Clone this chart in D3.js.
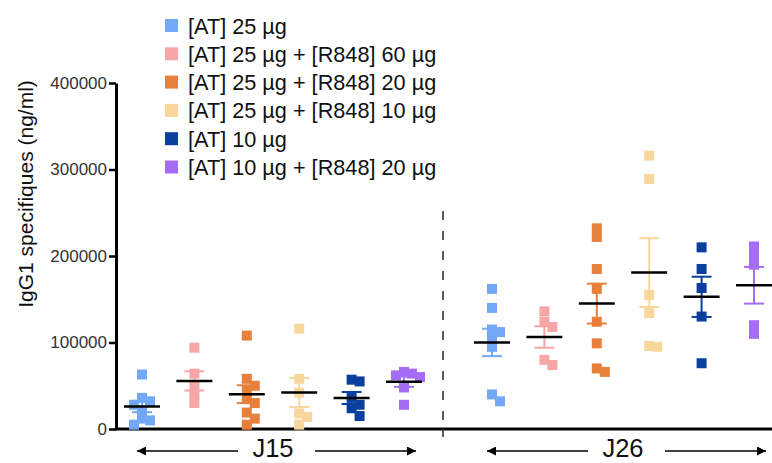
<!DOCTYPE html>
<meta charset="utf-8">
<head>
    <script src="https://d3js.org/d3.v7.min.js"></script>
    <style>
        body { margin: 0; background: #fff; }
        text { font-family: 'Liberation Sans', Arial, sans-serif; }
    </style>
</head>
<body>
    <div id="chart"></div>
    <script>

    // data
    var days = ["J15", "J26"]
    var treatments = ["[AT] 25 µg", "[AT] 25 µg + [R848] 60 µg", "[AT] 25 µg + [R848] 20 µg",
                      "[AT] 25 µg + [R848] 10 µg", "[AT] 10 µg", "[AT] 10 µg + [R848] 20 µg"]
    var yTicks = [0, 100000, 200000, 300000, 400000]

    var j15 = [
        [63000, 36000, 32000, 28000, 22000, 12000, 10000, 5000],
        [94000, 64000, 50000, 40000, 30000],
        [108000, 58000, 50000, 45000, 35000, 30000, 19000, 12000, 5000],
        [116000, 58000, 42000, 18000, 14000, 5000],
        [57000, 55000, 36000, 28000, 24000, 15000],
        [66000, 64000, 62000, 60000, 48000, 28000]
    ]
    var j26 = [
        [162000, 140000, 115000, 112000, 105000, 95000, 40000, 32000],
        [136000, 124000, 118000, 80000, 74000],
        [232000, 222000, 185000, 162000, 124000, 99000, 70000, 66000],
        [316000, 289000, 155000, 134000, 96000, 95000],
        [210000, 185000, 163000, 130000, 76000],
        [211000, 200000, 190000, 120000, 110000]
    ]

    var colors = ["#72a8f6", "#f6a6a6", "#e6803a", "#f8d69c", "#0b3f9e", "#a56df6"]

    var width = 772,
        height = 463

    var svg = d3.select("#chart")
                .append("svg")
                .attr("width", width)
                .attr("height", height)

    // scales
    var y = d3.scaleLinear().domain([0, 400000]).range([429, 83])
    var xDay = d3.scaleBand().domain(days).range([116, 816]).padding(0)
    var xTreat = d3.scalePoint().domain(d3.range(treatments.length)).range([26, 288])
    var color = d3.scaleOrdinal().domain(d3.range(treatments.length)).range(colors)

    function cx(day, i) { return xDay(day) + xTreat(i) }

    // y axis
    svg.append("g")
        .attr("transform", "translate(116,0)")
        .call(d3.axisLeft(y).tickValues(yTicks).tickFormat(d3.format("d")).tickSize(7).tickSizeOuter(0).tickPadding(2))
        .call(function(g) {
            g.select(".domain").attr("stroke", "#000").attr("stroke-width", 3)
            g.selectAll(".tick line").attr("stroke", "#000").attr("stroke-width", 2.5)
            g.selectAll(".tick text").attr("fill", "#333").style("font-size", "17px")
                .style("font-family", "'Liberation Sans', Arial, sans-serif")
        })

    // x axis line
    svg.append("line")
        .attr("x1", 116).attr("x2", width)
        .attr("y1", y(0)).attr("y2", y(0))
        .attr("stroke", "#000").attr("stroke-width", 3)

    // separator between days
    var sepX = (cx("J15", treatments.length - 1) + cx("J26", 0)) / 2 - 5
    svg.append("line")
        .attr("x1", sepX).attr("x2", sepX)
        .attr("y1", 211).attr("y2", y(0))
        .attr("stroke", "#333").attr("stroke-width", 1.6)
        .attr("stroke-dasharray", "9,11")
    svg.append("line")
        .attr("x1", sepX).attr("x2", sepX)
        .attr("y1", y(0)).attr("y2", y(0) + 8)
        .attr("stroke", "#333").attr("stroke-width", 1.6)

    // build group records
    var groups = []
    days.forEach(function(day, di) {
        var src = di == 0 ? j15 : j26
        src.forEach(function(vals, i) {
            var m = d3.mean(vals)
            var sem = d3.deviation(vals) / Math.sqrt(vals.length)
            groups.push({ day: day, i: i, vals: vals, mean: m, sem: sem })
        })
    })

    // scatter: spread overlapping squares sideways
    var size = 10
    groups.forEach(function(g) {
        var placed = []
        var sorted = g.vals.slice().sort(function(a, b) { return b - a })
        sorted.forEach(function(v) {
            var py = y(v)
            var offs = [0, 1, -1, 2, -2, 3, -3]
            for (var k = 0; k < offs.length; k++) {
                var px = cx(g.day, g.i) + offs[k] * (size - 2)
                var hit = placed.some(function(p) { return Math.abs(p.x - px) < size - 2 && Math.abs(p.y - py) < size - 2 })
                if (!hit) { placed.push({ x: px, y: py }); break }
            }
        })
        svg.append("g").selectAll("rect")
            .data(placed)
            .enter()
            .append("rect")
            .attr("x", function(p) { return p.x - size / 2 })
            .attr("y", function(p) { return p.y - size / 2 })
            .attr("width", size).attr("height", size)
            .attr("fill", color(g.i))
    })

    // error bars (SEM)
    var bars = svg.append("g").selectAll("g")
        .data(groups)
        .enter()
        .append("g")
        .attr("stroke", function(g) { return color(g.i) })
        .attr("stroke-width", 2)
    bars.append("line")
        .attr("x1", function(g) { return cx(g.day, g.i) })
        .attr("x2", function(g) { return cx(g.day, g.i) })
        .attr("y1", function(g) { return y(g.mean + g.sem) })
        .attr("y2", function(g) { return y(g.mean - g.sem) })
    bars.selectAll(".cap")
        .data(function(g) { return [g.mean + g.sem, g.mean - g.sem].map(function(v) { return { g: g, v: v } }) })
        .enter()
        .append("line")
        .attr("x1", function(d) { return cx(d.g.day, d.g.i) - 10 })
        .attr("x2", function(d) { return cx(d.g.day, d.g.i) + 10 })
        .attr("y1", function(d) { return y(d.v) })
        .attr("y2", function(d) { return y(d.v) })

    // mean lines
    svg.append("g").selectAll("line")
        .data(groups)
        .enter()
        .append("line")
        .attr("x1", function(g) { return cx(g.day, g.i) - 18 })
        .attr("x2", function(g) { return cx(g.day, g.i) + 18 })
        .attr("y1", function(g) { return y(g.mean) })
        .attr("y2", function(g) { return y(g.mean) })
        .attr("stroke", "#000").attr("stroke-width", 2.5)

    // y axis title
    svg.append("text")
        .attr("transform", "translate(33," + 194 + ") rotate(-90)")
        .attr("text-anchor", "middle")
        .style("font-size", "21px")
        .attr("fill", "#111")
        .text("IgG1 specifiques (ng/ml)")

    // day labels with arrows
    svg.append("defs").append("marker")
        .attr("id", "arrow")
        .attr("viewBox", "0 0 10 10")
        .attr("refX", 10).attr("refY", 5)
        .attr("markerWidth", 16).attr("markerHeight", 9)
        .attr("markerUnits", "userSpaceOnUse")
        .attr("orient", "auto")
        .append("path").attr("d", "M0,0L10,5L0,10Z").attr("fill", "#000")

    days.forEach(function(day) {
        var c = xDay(day) + (xTreat(0) + xTreat(treatments.length - 1)) / 2
        svg.append("text")
            .attr("x", c).attr("y", 457)
            .attr("text-anchor", "middle")
            .style("font-size", "25.5px")
            .attr("fill", "#111")
            .text(day)
        svg.append("line")
            .attr("x1", c - 35).attr("x2", c - 136)
            .attr("y1", 451).attr("y2", 451)
            .attr("stroke", "#000").attr("stroke-width", 1.6)
            .attr("marker-end", "url(#arrow)")
        svg.append("line")
            .attr("x1", c + 42).attr("x2", c + 143)
            .attr("y1", 451).attr("y2", 451)
            .attr("stroke", "#000").attr("stroke-width", 1.6)
            .attr("marker-end", "url(#arrow)")
    })

    // legend
    var legend = svg.append("g").selectAll("g")
        .data(treatments)
        .enter()
        .append("g")
        .attr("transform", function(d, i) { return "translate(165," + (26 + i * 28.3) + ")" })
    legend.append("rect")
        .attr("x", 0).attr("y", -7)
        .attr("width", 13).attr("height", 13)
        .attr("fill", function(d, i) { return color(i) })
    legend.append("text")
        .attr("x", 23).attr("y", 7.5)
        .style("font-size", "21.7px")
        .attr("fill", "#111")
        .text(function(d) { return d })

    </script>
</body>
